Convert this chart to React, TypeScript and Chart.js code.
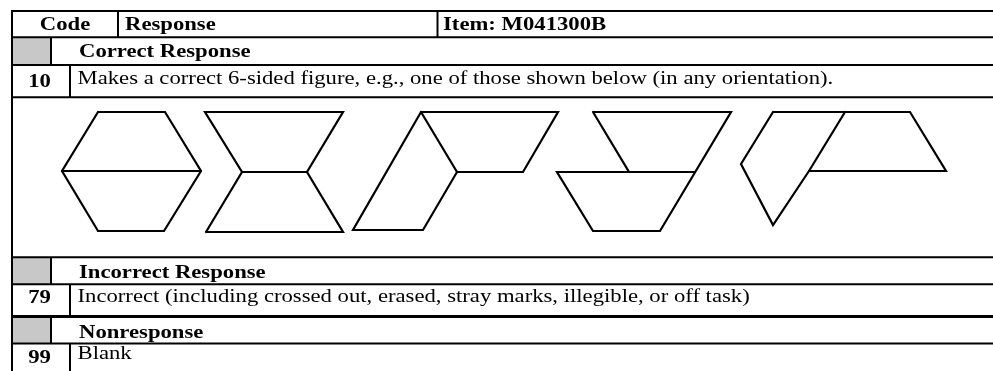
import React, { useEffect, useRef } from "react";
import { Chart, registerables } from "chart.js";

Chart.register(...registerables);

// ---------------- data ----------------
const headerLabels = ["Code", "Response", "Item: M041300B"];
const sectionTitles = ["Correct Response", "Incorrect Response", "Nonresponse"];
const scoreCodes = ["10", "79", "99"];
const scoreDescriptions = [
  "Makes a correct 6-sided figure, e.g., one of those shown below (in any orientation).",
  "Incorrect (including crossed out, erased, stray marks, illegible, or off task)",
  "Blank",
];

// Example figures: vertex lists in picture units (x right, y down)
const hexagonOutline = [[98, 112], [165, 112], [201, 171], [164, 231], [98, 231], [62, 171], [98, 112]];
const hexagonSplit = [[62, 171], [201, 171]];
const bowtieTop = [[206, 232], [242, 172], [205, 112], [343, 112], [307, 172], [343, 232], [206, 232]];
const bowtieWaist = [[242, 172], [307, 172]];
const zigOutline = [[421, 112], [558, 112], [523, 172], [457, 172], [423, 230], [353, 230], [421, 112]];
const zigSplit = [[421, 112], [457, 172]];
const stackOutline = [[593, 112], [731, 112], [660, 231], [593, 231], [557, 172], [629, 172], [593, 112]];
const stackSplit = [[629, 172], [694, 172]];
const flagOutline = [[773, 112], [910, 112], [946, 171], [809, 171], [773, 225], [741, 164], [773, 112]];
const flagSplit = [[809, 171], [845, 112]];

const figures = [
  hexagonOutline, hexagonSplit,
  bowtieTop, bowtieWaist,
  zigOutline, zigSplit,
  stackOutline, stackSplit,
  flagOutline, flagSplit,
];

// ---------------- layout (picture units) ----------------
const W = 993;
const H = 371;
const L = {
  left: 12,
  right: 993,
  bottom: 371,
  rules: [11, 37.3, 65, 97.3, 257.3, 284.3, 316.5, 343.5],
  thickRule: 316.5,
  headerTop: 11,
  headerBottom: 37.3,
  headerDividers: [118, 437.5],
  greyRows: [[37.3, 65], [257.3, 284.3], [316.5, 343.5]],
  greyRight: 51,
  codeRows: [[65, 97.3], [284.3, 316.5], [343.5, 371]],
  codeDivider: 70,
  headerBaseline: 30,
  headerX: [65, 125, 443],
  titleX: 79,
  titleBaselines: [57.3, 278, 337.6],
  codeX: 39.5,
  codeBaselines: [87.3, 303.3, 362.7],
  descX: 77.5,
  descBaselines: [84, 301.7, 359],
};
const STRETCH = 1.26;
const FONT = '"Liberation Serif", "Times New Roman", Times, serif';

function seg(x1: number, y1: number, x2: number, y2: number) {
  return [{ x: x1, y: y1 }, { x: x2, y: y2 }];
}

function buildRuleDatasets() {
  const ds: any[] = [];
  const line = (data: any[], w: number) =>
    ds.push({
      data,
      showLine: true,
      borderColor: "#000",
      borderWidth: w,
      pointRadius: 0,
      fill: false,
      tension: 0,
      borderCapStyle: "butt",
    });
  L.rules.forEach((y) => line(seg(L.left - 1, y, L.right, y), y === L.thickRule ? 3 : 2));
  line(seg(L.left, L.headerTop - 1, L.left, L.bottom), 2);
  L.headerDividers.forEach((x) => line(seg(x, L.headerTop, x, L.headerBottom), 2));
  L.greyRows.forEach(([a, b]) => line(seg(L.greyRight, a, L.greyRight, b), 2));
  L.codeRows.forEach(([a, b]) => line(seg(L.codeDivider, a, L.codeDivider, b), 2));
  return ds;
}

function buildFigureDatasets() {
  return figures.map((pts) => ({
    data: pts.map(([x, y]) => ({ x, y })),
    showLine: true,
    borderColor: "#000",
    borderWidth: 2.2,
    pointRadius: 0,
    fill: false,
    tension: 0,
    borderJoinStyle: "miter",
    borderCapStyle: "round",
  }));
}

function drawText(ctx: CanvasRenderingContext2D, text: string, x: number, y: number, bold: boolean, center: boolean) {
  ctx.save();
  ctx.font = `${bold ? "bold " : ""}18px ${FONT}`;
  ctx.fillStyle = "#000";
  ctx.textBaseline = "alphabetic";
  ctx.textAlign = "left";
  const w = ctx.measureText(text).width * STRETCH;
  const left = center ? x - w / 2 : x;
  ctx.translate(left, y);
  ctx.scale(STRETCH, 1);
  ctx.fillText(text, 0, 0);
  ctx.restore();
}

const tablePlugin = {
  id: "scoringTable",
  beforeDatasetsDraw(chart: any) {
    const ctx = chart.ctx as CanvasRenderingContext2D;
    const xs = chart.scales.x;
    const ys = chart.scales.y;
    ctx.save();
    ctx.fillStyle = "#c8c8c8";
    L.greyRows.forEach(([a, b]) => {
      const x0 = xs.getPixelForValue(L.left);
      const x1 = xs.getPixelForValue(L.greyRight);
      const y0 = ys.getPixelForValue(a);
      const y1 = ys.getPixelForValue(b);
      ctx.fillRect(x0, y0, x1 - x0, y1 - y0);
    });
    ctx.restore();
  },
  afterDatasetsDraw(chart: any) {
    const ctx = chart.ctx as CanvasRenderingContext2D;
    const xs = chart.scales.x;
    const ys = chart.scales.y;
    const px = (v: number) => xs.getPixelForValue(v);
    const py = (v: number) => ys.getPixelForValue(v);
    headerLabels.forEach((t, i) => drawText(ctx, t, px(L.headerX[i]), py(L.headerBaseline), true, i === 0));
    sectionTitles.forEach((t, i) => drawText(ctx, t, px(L.titleX), py(L.titleBaselines[i]), true, false));
    scoreCodes.forEach((t, i) => drawText(ctx, t, px(L.codeX), py(L.codeBaselines[i]), true, true));
    scoreDescriptions.forEach((t, i) => drawText(ctx, t, px(L.descX), py(L.descBaselines[i]), false, false));
  },
};

export default function App() {
  const ref = useRef<HTMLCanvasElement | null>(null);
  useEffect(() => {
    document.body.style.margin = "0";
    document.body.style.background = "#fff";
    const canvas = ref.current;
    if (!canvas) return;
    const chart = new Chart(canvas, {
      type: "scatter",
      data: { datasets: [...buildRuleDatasets(), ...buildFigureDatasets()] as any },
      options: {
        responsive: false,
        animation: false,
        devicePixelRatio: 1,
        layout: { padding: 0 },
        events: [],
        scales: {
          x: { type: "linear", min: 0, max: W, display: false },
          y: { type: "linear", min: 0, max: H, reverse: true, display: false },
        },
        plugins: {
          legend: { display: false },
          tooltip: { enabled: false },
          title: { display: false },
        },
        elements: { line: { tension: 0 } },
      } as any,
      plugins: [tablePlugin],
    });
    return () => chart.destroy();
  }, []);
  return (
    <div style={{ width: W, height: H, background: "#fff" }}>
      <canvas ref={ref} width={W} height={H} style={{ display: "block", width: W, height: H }} />
    </div>
  );
}
